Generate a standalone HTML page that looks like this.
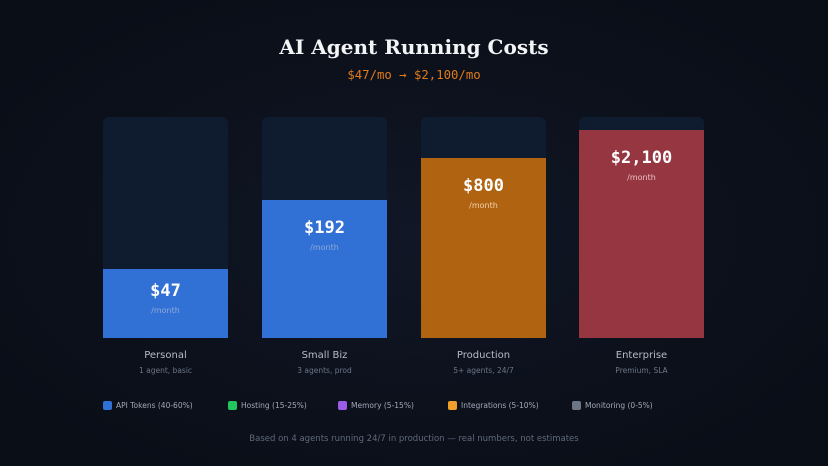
<!DOCTYPE html>
<html><head><meta charset="utf-8"><style>
*{margin:0;padding:0;box-sizing:border-box}
body{width:828px;height:466px;overflow:hidden;background:radial-gradient(ellipse 60% 60% at 50% 50%,#111726 0%,#0c111c 60%,#0a0e17 100%);font-family:"DejaVu Sans","Liberation Sans",sans-serif;position:relative;color:#fff}
.a{position:absolute}
.title{left:0;width:828px;top:35px;text-align:center;font-family:"DejaVu Serif","Liberation Serif",serif;font-weight:bold;font-size:20px;color:#f3f4f6}
.sub{left:0;width:828px;top:68px;text-align:center;font-family:"DejaVu Sans Mono","Liberation Mono",monospace;font-size:12.3px;color:#e07b1a}
.track{top:117px;width:125px;height:221px;background:#0f1b2f;border-radius:6px 6px 0 0;overflow:hidden}
.fill{position:absolute;left:0;right:0;bottom:0;text-align:center}
.v{font-family:"DejaVu Sans Mono","Liberation Mono",monospace;font-weight:bold;font-size:17px;color:#fff}
.m{font-size:8px;margin-top:5px}
.n{width:125px;text-align:center;top:350px;font-size:10px;color:#b4bcc8}
.s{width:125px;text-align:center;top:366px;font-size:7.5px;color:#6b7687}
.lg{top:401px;font-size:7.5px;color:#a0a9b8;display:flex;align-items:center;white-space:nowrap}
.lg i{display:inline-block;width:9px;height:9px;border-radius:2px;margin-right:4px}
.f{left:0;width:828px;top:434px;text-align:center;font-size:8.5px;color:#5f6a7b}
</style></head><body>
<div class="a title">AI Agent Running Costs</div>
<div class="a sub">$47/mo → $2,100/mo</div>

<div class="a track" style="left:103px"><div class="fill" style="height:69px;background:#3170d4;padding-top:12px"><div class="v">$47</div><div class="m" style="color:#8fa9d8">/month</div></div></div>
<div class="a track" style="left:262px"><div class="fill" style="height:138px;background:#3170d4;padding-top:18px"><div class="v">$192</div><div class="m" style="color:#8fa9d8">/month</div></div></div>
<div class="a track" style="left:421px"><div class="fill" style="height:180px;background:#b06412;padding-top:18px"><div class="v">$800</div><div class="m" style="color:#f1d2ad">/month</div></div></div>
<div class="a track" style="left:579px"><div class="fill" style="height:208px;background:#963640;padding-top:18px"><div class="v">$2,100</div><div class="m" style="color:#e8c0c4">/month</div></div></div>

<div class="a n" style="left:103px">Personal</div><div class="a s" style="left:103px">1 agent, basic</div>
<div class="a n" style="left:262px">Small Biz</div><div class="a s" style="left:262px">3 agents, prod</div>
<div class="a n" style="left:421px">Production</div><div class="a s" style="left:421px">5+ agents, 24/7</div>
<div class="a n" style="left:579px">Enterprise</div><div class="a s" style="left:579px">Premium, SLA</div>

<div class="a lg" style="left:103px"><i style="background:#3170d4"></i>API Tokens (40-60%)</div>
<div class="a lg" style="left:228px"><i style="background:#22c55e"></i>Hosting (15-25%)</div>
<div class="a lg" style="left:338px"><i style="background:#9b5de5"></i>Memory (5-15%)</div>
<div class="a lg" style="left:448px"><i style="background:#f0a02a"></i>Integrations (5-10%)</div>
<div class="a lg" style="left:572px"><i style="background:#6b7687"></i>Monitoring (0-5%)</div>

<div class="a f">Based on 4 agents running 24/7 in production — real numbers, not estimates</div>
</body></html>
